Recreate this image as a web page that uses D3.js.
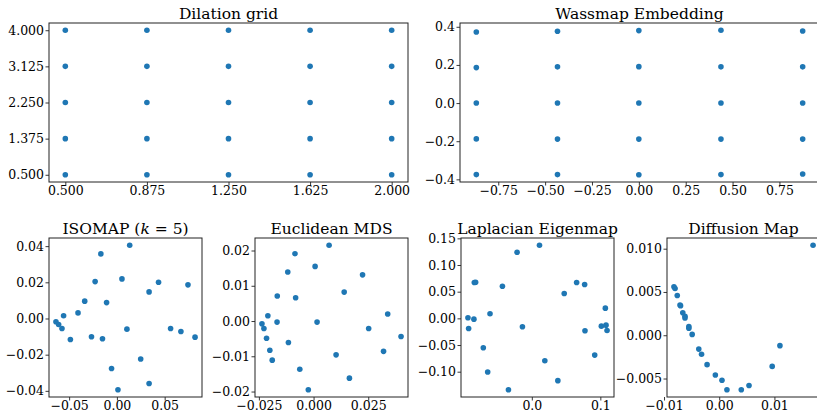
<!DOCTYPE html>
<html>
<head>
<meta charset="utf-8">
<script src="https://cdn.jsdelivr.net/npm/d3@7"></script>
<style>
  body { margin: 0; background: #fff; }
  text { font-family: "DejaVu Serif", "Liberation Serif", serif; fill: #000; }
</style>
</head>
<body>
<svg id="canvas"></svg>
<script>
// dilation grid
const gridX = [0.5, 0.875, 1.25, 1.625, 2.0, 0.5, 0.875, 1.25, 1.625, 2.0, 0.5, 0.875, 1.25, 1.625, 2.0, 0.5, 0.875, 1.25, 1.625, 2.0, 0.5, 0.875, 1.25, 1.625, 2.0];
const gridY = [4.0, 4.0, 4.0, 4.0, 4.0, 3.125, 3.125, 3.125, 3.125, 3.125, 2.25, 2.25, 2.25, 2.25, 2.25, 1.375, 1.375, 1.375, 1.375, 1.375, 0.5, 0.5, 0.5, 0.5, 0.5];
const gridTicks = [0.5, 0.875, 1.25, 1.625, 2.0];
const gridYTicks = [0.5, 1.375, 2.25, 3.125, 4.0];

// wassmap embedding
const wassX = [-0.867, -0.434, 0.0, 0.438, 0.874, -0.867, -0.434, 0.0, 0.438, 0.874, -0.867, -0.434, 0.0, 0.438, 0.874, -0.867, -0.434, 0.0, 0.438, 0.874, -0.867, -0.434, 0.0, 0.438, 0.874];
const wassY = [0.373, 0.377, 0.380, 0.382, 0.378, 0.186, 0.190, 0.191, 0.190, 0.190, 0.0, 0.0, 0.0, 0.0, 0.0, -0.188, -0.189, -0.189, -0.189, -0.189, -0.375, -0.375, -0.376, -0.375, -0.372];
const wassXTicks = [-0.75, -0.5, -0.25, 0, 0.25, 0.5, 0.75];
const wassYTicks = [-0.4, -0.2, 0, 0.2, 0.4];

// isomap
const isoX = [-0.0638, -0.061, -0.0575, -0.0558, -0.0487, -0.0407, -0.0337, -0.0266, -0.0228, -0.0168, -0.0151, -0.0108, -0.0056, 0.0011, 0.0053, 0.0105, 0.0134, 0.0249, 0.0337, 0.0337, 0.0436, 0.0562, 0.067, 0.0744, 0.0818];
const isoY = [-0.0018, -0.0033, -0.0055, 0.0015, -0.0116, 0.0031, 0.0096, -0.0101, 0.0204, 0.0357, -0.0112, 0.0088, -0.0276, -0.0394, 0.0219, -0.0059, 0.0405, -0.0224, 0.0147, -0.0359, 0.0200, -0.0055, -0.0072, 0.0186, -0.0103];
const isoXTicks = [-0.05, 0, 0.05];
const isoYTicks = [-0.04, -0.02, 0, 0.02, 0.04];

// euclidean mds
const mdsX = [-0.0236, -0.0227, -0.0215, -0.0209, -0.02, -0.0189, -0.0166, -0.0167, -0.0118, -0.0115, -0.0085, -0.0082, -0.0063, -0.0024, 0.0007, 0.0016, 0.0071, 0.0103, 0.014, 0.0164, 0.0224, 0.0252, 0.032, 0.0339, 0.040];
const mdsY = [-0.0008, -0.0021, -0.0049, 0.0015, -0.0083, -0.0111, 0.0071, -0.0003, 0.0139, -0.0061, 0.0191, 0.0066, -0.0137, -0.0195, 0.0155, -0.0003, 0.0215, -0.0096, 0.0082, -0.0162, 0.0131, -0.0021, -0.0086, 0.0020, -0.0044];
const mdsXTicks = [-0.025, 0, 0.025];
const mdsYTicks = [-0.02, -0.01, 0, 0.01, 0.02];

// laplacian eigenmap
const lapX = [-0.0932, -0.0922, -0.0845, -0.0839, -0.082, -0.0708, -0.0644, -0.061, -0.0429, -0.0341, -0.0215, -0.0137, 0.0112, 0.019, 0.038, 0.0473, 0.0654, 0.0771, 0.0776, 0.0918, 0.1015, 0.1073, 0.1083, 0.1098];
const lapY = [0.001, -0.019, -0.0015, 0.0672, 0.0678, -0.055, -0.1006, 0.0086, 0.0603, -0.1339, 0.124, -0.0157, 0.1371, -0.0794, -0.1168, 0.0466, 0.0672, 0.0635, -0.0232, -0.0689, -0.0146, 0.0191, -0.0127, -0.0227];
const lapXTicks = [0.0, 0.1];
const lapYTicks = [-0.10, -0.05, 0, 0.05, 0.10, 0.15];

// diffusion map
const difX = [-0.0082, -0.008, -0.0076, -0.0071, -0.007, -0.0066, -0.0062, -0.0062, -0.0055, -0.0055, -0.0049, -0.0037, -0.0032, -0.0022, -0.0007, 0.0005, 0.0014, 0.004, 0.0054, 0.0096, 0.011, 0.017];
const difY = [0.0056, 0.0054, 0.0046, 0.0035, 0.0034, 0.0026, 0.0022, 0.002, 0.001, 0.0008, 0.0001, -0.0016, -0.0022, -0.0034, -0.0046, -0.0052, -0.0063, -0.0063, -0.0058, -0.0036, -0.0012, 0.0104];
const difXTicks = [-0.01, 0, 0.01];
const difYTicks = [-0.005, 0, 0.005, 0.010];

var w = 817;
var h = 412;
var serif = '"DejaVu Serif", "Liberation Serif", serif';
var canvas = d3.select("#canvas")
    .attr("width", w)
    .attr("height", h);

var fmt = (n) => (d) => d3.format("." + n + "f")(d).replace("-", "\u2212");

const panels = [
    {title: "Dilation grid", xs: gridX, ys: gridY, xt: gridTicks, yt: gridYTicks, xf: fmt(3), yf: fmt(3), left: 49, top: 23, width: 359, height: 159},
    {title: "Wassmap Embedding", xs: wassX, ys: wassY, xt: wassXTicks, yt: wassYTicks, xf: fmt(2), yf: fmt(1), left: 460, top: 23, width: 359, height: 159},
    {title: "ISOMAP", xs: isoX, ys: isoY, xt: isoXTicks, yt: isoYTicks, xf: fmt(2), yf: fmt(2), left: 49, top: 238, width: 153, height: 159},
    {title: "Euclidean MDS", xs: mdsX, ys: mdsY, xt: mdsXTicks, yt: mdsYTicks, xf: fmt(3), yf: fmt(2), left: 255, top: 238, width: 153, height: 159},
    {title: "Laplacian Eigenmap", xs: lapX, ys: lapY, xt: lapXTicks, yt: lapYTicks, xf: fmt(1), yf: fmt(2), left: 461, top: 238, width: 153, height: 159},
    {title: "Diffusion Map", xs: difX, ys: difY, xt: difXTicks, yt: difYTicks, xf: fmt(2), yf: fmt(3), left: 667, top: 238, width: 153, height: 159}
];

// matplotlib style 5% margins
function padded(vals) {
    var ext = d3.extent(vals);
    var m = (ext[1] - ext[0]) * 0.05;
    return [ext[0] - m, ext[1] + m];
}

panels.forEach((p, pi) => {
    var x = d3.scaleLinear().domain(padded(p.xs)).range([0, p.width]);
    var y = d3.scaleLinear().domain(padded(p.ys)).range([p.height, 0]);

    var g = canvas.append("g")
        .attr("transform", "translate(" + p.left + "," + p.top + ")");

    g.selectAll("circle")
        .data(p.xs)
        .enter()
        .append("circle")
        .attr("cx", (d) => x(d))
        .attr("cy", (d, i) => y(p.ys[i]))
        .attr("r", 2.8)
        .style("fill", "#1f77b4");

    var xAxis = g.append("g")
        .attr("transform", "translate(0," + p.height + ")")
        .call(d3.axisBottom(x).tickValues(p.xt).tickFormat(p.xf).tickSize(3.5).tickPadding(0.5).tickSizeOuter(0));
    var yAxis = g.append("g")
        .call(d3.axisLeft(y).tickValues(p.yt).tickFormat(p.yf).tickSize(3.5).tickPadding(1.5).tickSizeOuter(0));

    [xAxis, yAxis].forEach((a) => {
        a.attr("font-family", serif).attr("font-size", 12.5);
        a.select(".domain").remove();
        a.selectAll("line").attr("stroke", "#222").attr("stroke-width", 0.9);
        a.selectAll("text").attr("fill", "#111");
    });

    g.append("rect")
        .attr("width", p.width)
        .attr("height", p.height)
        .attr("fill", "none")
        .attr("stroke", "#222")
        .attr("stroke-width", 1);

    var t = g.append("text")
        .attr("x", p.width / 2)
        .attr("y", -4)
        .attr("text-anchor", "middle")
        .style("font-family", serif)
        .style("font-size", "15.5px")
        .text(p.title);
    if (pi == 2) {
        t.append("tspan").text(" (");
        t.append("tspan").style("font-style", "italic").text("k");
        t.append("tspan").text(" = 5)");
    }
});
</script>
</body>
</html>
